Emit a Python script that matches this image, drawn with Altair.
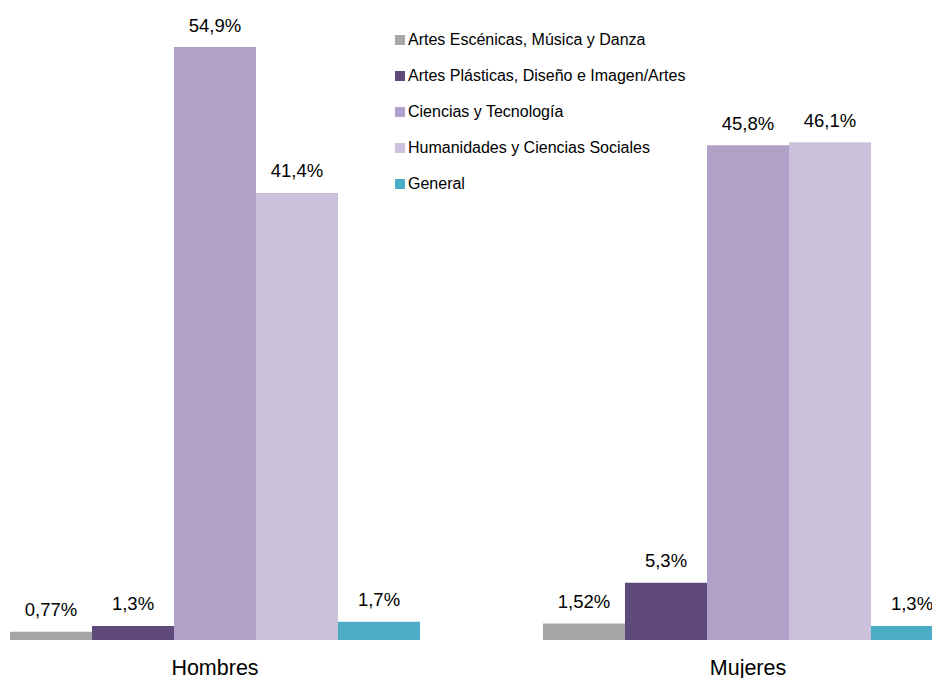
import altair as alt
import pandas as pd

groups = ["Hombres", "Mujeres"]
categories = [
    "Artes Escénicas, Música y Danza",
    "Artes Plásticas, Diseño e Imagen/Artes",
    "Ciencias y Tecnología",
    "Humanidades y Ciencias Sociales",
    "General",
]
hombres_values = [0.77, 1.3, 54.9, 41.4, 1.7]
mujeres_values = [1.52, 5.3, 45.8, 46.1, 1.3]
hombres_labels = ["0,77%", "1,3%", "54,9%", "41,4%", "1,7%"]
mujeres_labels = ["1,52%", "5,3%", "45,8%", "46,1%", "1,3%"]
colors = ["#a6a6a6", "#604a7b", "#b1a0c7", "#ccc1da", "#4bacc6"]

rows = []
for g, vals, labs in [("Hombres", hombres_values, hombres_labels),
                      ("Mujeres", mujeres_values, mujeres_labels)]:
    for c, v, l in zip(categories, vals, labs):
        rows.append({"grupo": g, "categoria": c, "valor": v, "etiqueta": l})
df = pd.DataFrame(rows)

FONT = "Liberation Sans"

base = alt.Chart(df).encode(
    x=alt.X(
        "grupo:N",
        scale=alt.Scale(domain=groups, range=[2, 945], paddingInner=0.2308, paddingOuter=0),
        axis=alt.Axis(title=None, labelAngle=0, ticks=False, domain=False,
                      labelFontSize=21.5, labelFont=FONT, labelColor="#000000",
                      labelPadding=17),
    ),
    xOffset=alt.XOffset("categoria:N", scale=alt.Scale(domain=categories, paddingInner=0, paddingOuter=0)),
    y=alt.Y("valor:Q", scale=alt.Scale(domain=[0, 58.52], nice=False, zero=True), axis=None),
)

bars = base.mark_bar(clip=True).encode(
    color=alt.Color(
        "categoria:N",
        scale=alt.Scale(domain=categories, range=colors),
        legend=alt.Legend(
            title=None, orient="none", legendX=384, legendY=24,
            symbolType="square", symbolSize=100, symbolStrokeWidth=0,
            labelFontSize=16, labelFont=FONT, labelColor="#000000",
            labelOffset=0, rowPadding=20, padding=0, labelLimit=400,
        ),
    )
)

text = base.mark_text(baseline="middle", dy=-21.5, fontSize=18.5, font=FONT, color="#000000", clip=True).encode(
    text="etiqueta:N"
)

chart = (bars + text).properties(
    width=924, height=632,
    autosize=alt.AutoSizeParams(type="none"),
    padding={"left": 0, "top": 0, "right": 0, "bottom": 38},
).configure_view(stroke=None)

chart.save("out.html", embed_options={"renderer": "svg", "actions": False})
